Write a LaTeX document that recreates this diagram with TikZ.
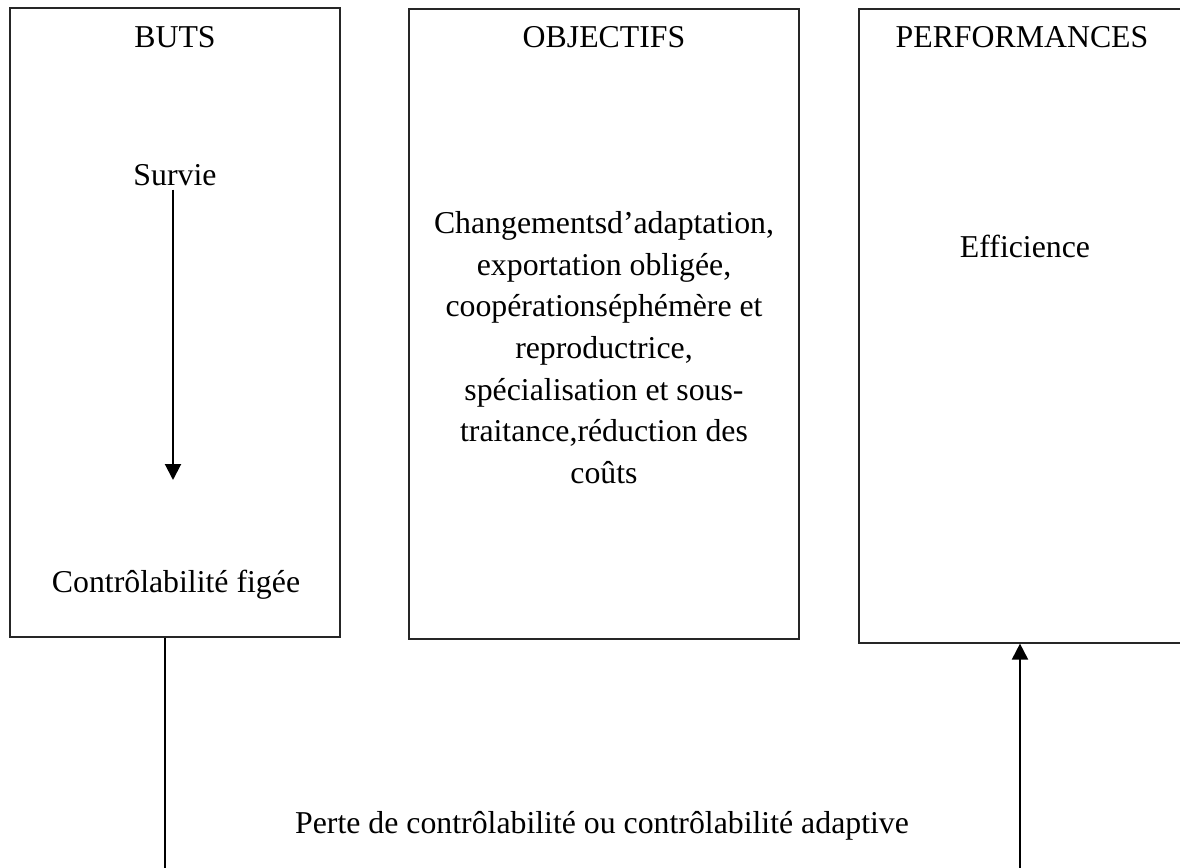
\documentclass[tikz,border=0pt]{standalone}
\usepackage{fontspec}
\setmainfont{Liberation Serif}
\usetikzlibrary{arrows.meta}
\begin{document}
\begin{tikzpicture}[x=0.5pt,y=-0.5pt,
  panel/.style={draw=black!85, line width=0.6pt, inner sep=0pt},
  lbl/.style={inner sep=0pt, font=\fontsize{15.9pt}{20.85pt}\selectfont},
  flow/.style={line width=1pt, -{Triangle[width=8pt,length=8pt]}},
  link/.style={line width=0.6pt}]
\useasboundingbox (0,0) rectangle (1180,868);
\clip (0,0) rectangle (1180,868);

% the three columns
\node[panel, minimum width=165pt, minimum height=314.5pt] (buts) at (175,322.5) {};
\node[panel, minimum width=195pt, minimum height=315pt] (obj) at (604,324) {};
\node[panel, minimum width=166pt, minimum height=317pt] (perf) at (1025,326) {};

% headings
\node[lbl, anchor=base] (tbuts) at (175,47) {BUTS};
\node[lbl, anchor=base] (tobj) at (604,47) {OBJECTIFS};
\node[lbl, anchor=base] (tperf) at (1022,47) {PERFORMANCES};

% column contents
\node[lbl, anchor=base] (survie) at (175,185) {Survie};
\node[lbl, anchor=base] (figee) at (176,592) {Contrôlabilité figée};
\node[lbl, anchor=north, align=center] (liste) at (604,211)
  {Changementsd’adaptation,\\ exportation obligée,\\ coopérationséphémère et\\
   reproductrice,\\ spécialisation et sous-\\ traitance,réduction des\\ coûts};
\node[lbl, anchor=base] (eff) at (1025,257) {Efficience};

% bottom caption
\node[lbl, anchor=base] (perte) at (602,833)
  {Perte de contrôlabilité ou contrôlabilité adaptive};

% connectors
\coordinate (tip) at (173,480);
\coordinate (downend) at (165,870);
\coordinate (upstart) at (1020,870);
\draw[flow] (survie.south -| tip) ++(0,4) -- (tip);
\draw[link] (buts.south -| downend) -- (downend);
\draw[flow] (upstart) -- (perf.south -| upstart);
\end{tikzpicture}
\end{document}
